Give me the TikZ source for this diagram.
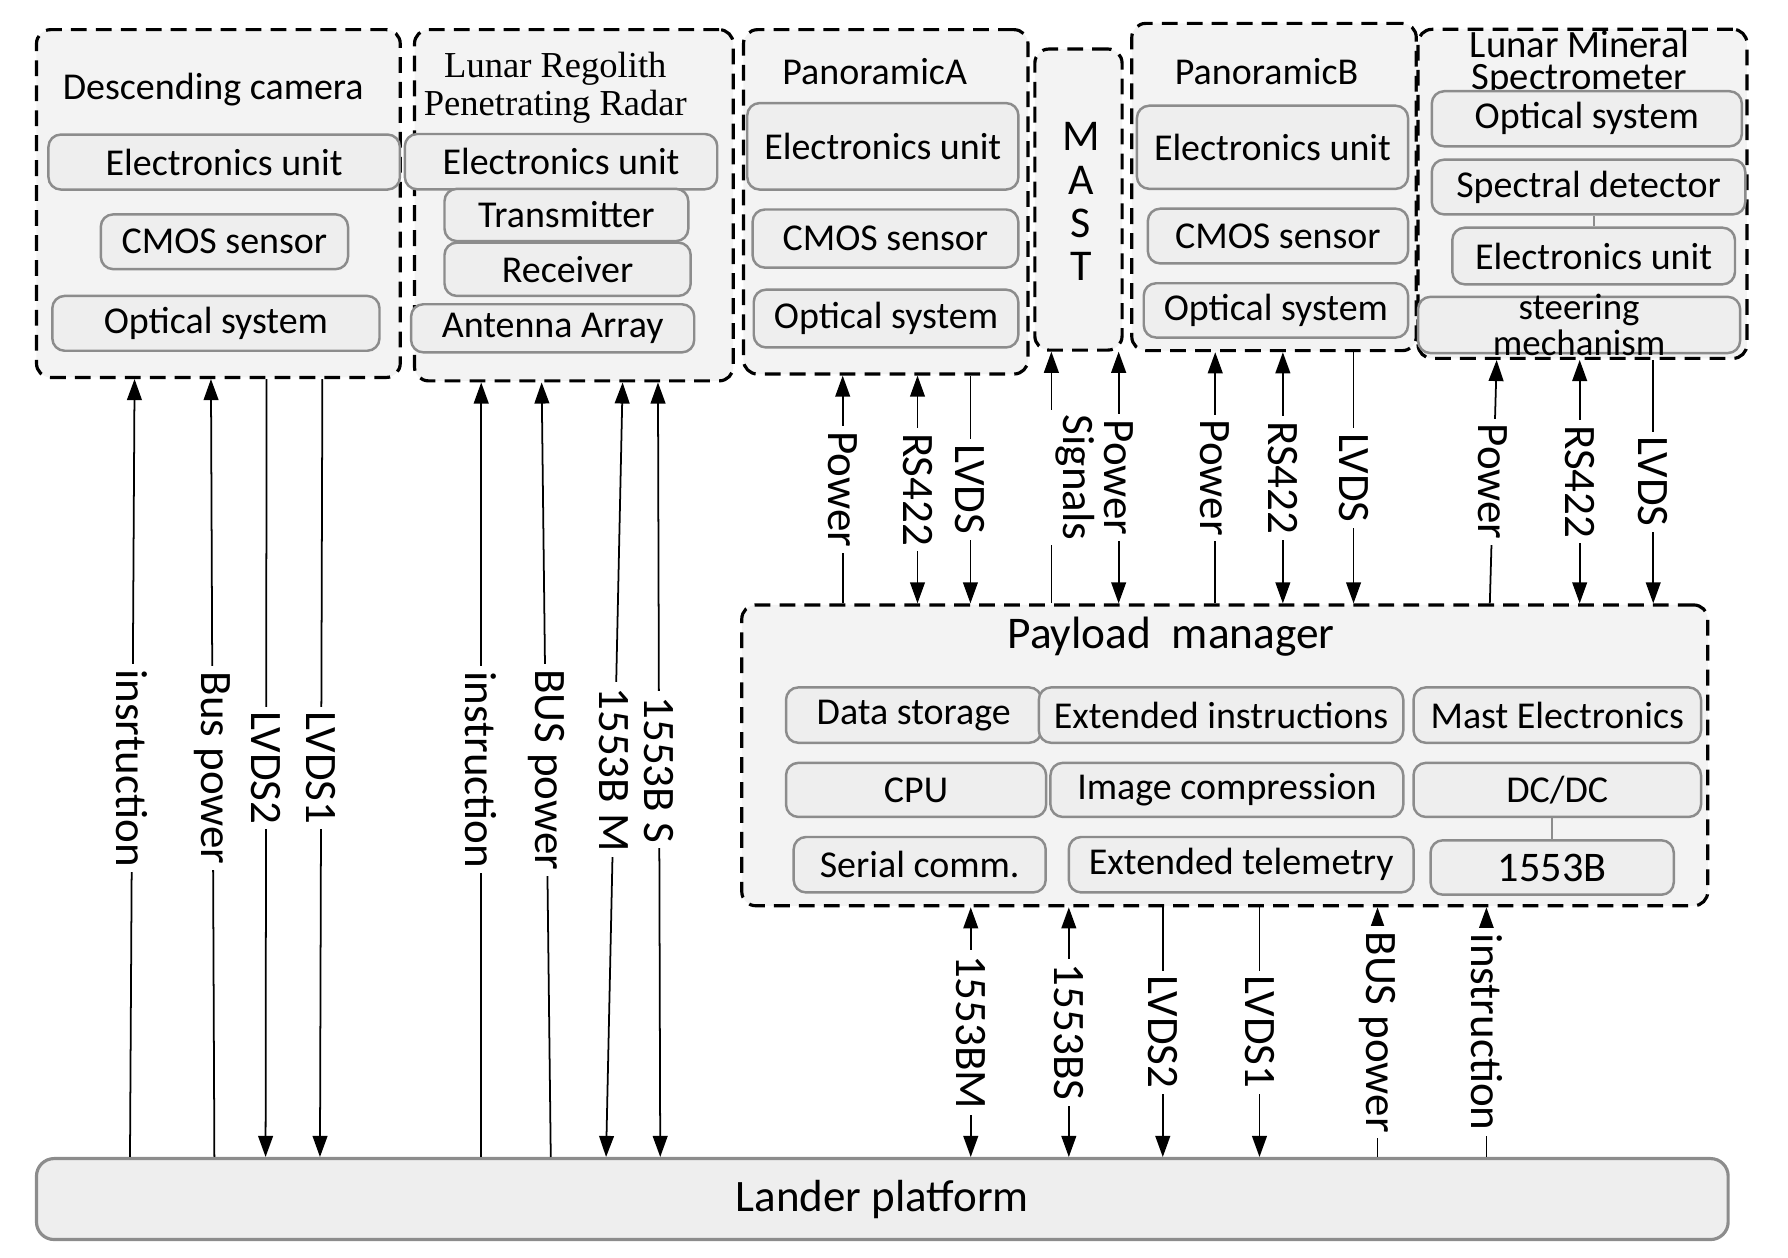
\documentclass[tikz,border=0pt]{standalone}
\usepackage{fontspec}
\setmainfont{Carlito}
\newfontfamily\regofont{Liberation Serif}
\usetikzlibrary{arrows.meta}
\usetikzlibrary{fit}
\usetikzlibrary{positioning}

\definecolor{groupfill}{HTML}{F3F3F3}
\definecolor{unitfill}{HTML}{EEEEEE}
\definecolor{unitline}{HTML}{8C8C8C}

\tikzset{
  group/.style={draw=black,line width=0.9pt,dash pattern=on 4.5pt off 2.6pt,rounded corners=4pt,fill=groupfill,inner sep=0pt},
  unit/.style={draw=unitline,line width=0.7pt,rounded corners=3.5pt,fill=unitfill,inner sep=0pt},
  utext/.style={inner sep=0pt,align=center,font=\fontsize{10.8}{11}\selectfont},
  platform/.style={draw=unitline,line width=0.9pt,rounded corners=5pt,fill=unitfill,inner sep=0pt},
  title/.style={inner sep=0pt,font=\fontsize{10.8}{11}\selectfont},
  wire/.style={line width=0.5pt},
  lbl/.style={midway,rotate=-90,fill=white,inner sep=1.5pt,font=\fontsize{12.8}{14}\selectfont},
}

\begin{document}
\begin{tikzpicture}[x=0.32445pt,y=-0.32445pt,>={Triangle[length=6pt,width=4.2pt]}]
\useasboundingbox (0,0) rectangle (1568,1103);

% instrument groups
\node[group,fit={(32,26) (351,331)}] (desc) {};
\node[group,fit={(363.5,26) (643,334)}] (radar) {};
\node[group,fit={(652,26) (901.5,328)}] (pana) {};
\node[group,fit={(907.5,43) (984,307)},
  label={[utext,font=\fontsize{12.5}{12.3}\selectfont,xshift=0.7pt,yshift=-0.6pt]center:M\\A\\S\\T}] (mast) {};
\node[group,fit={(992.5,20.5) (1242,307.5)}] (panb) {};
\node[group,fit={(1243.5,25.7) (1532,314.3)}] (lms) {};
\node[group,fit={(650.5,530.5) (1497.6,794.3)}] (pm) {};
\node[platform,fit={(32,1016) (1515.5,1087)},
  label={[utext,font=\fontsize{12.8}{13}\selectfont]center:Lander platform}] (lander) {};

\node[title,anchor=base] (desct) at (187,87.5) {Descending camera};
\node[title,align=center,font=\regofont\fontsize{10.4}{10.9}\selectfont] (radart) at (487,77) {Lunar Regolith\\Penetrating Radar};
\node[title,anchor=base] (panat) at (767,74.3) {PanoramicA};
\node[title,anchor=base] (panbt) at (1110.7,74.3) {PanoramicB};
\node[title,align=center,font=\fontsize{11}{9}\selectfont] (lmst) at (1385,55.5) {Lunar Mineral\\Spectrometer};
\node[title,anchor=base,font=\fontsize{12.9}{13}\selectfont] (pmt) at (1027,568.4) {Payload\ \ manager};

% units
\node[unit,fit={(42.5,118) (350.7,166.2)},label={[utext]center:Electronics unit}] (descelu) {};
\node[unit,fit={(88.4,188) (305.2,236)},label={[utext]center:CMOS sensor}] (desccmos) {};
\node[unit,fit={(45.9,259.5) (332.8,307.6)},label={[utext]center:Optical system}] (descopt) {};

\node[unit,fit={(355,117.5) (629,166)},label={[utext]center:Electronics unit}] (radarelu) {};
\node[unit,fit={(389.8,165.6) (603.6,211.4)},label={[utext]center:Transmitter}] (radartx) {};
\node[unit,fit={(389.8,212.8) (605.7,259.5)},label={[utext]center:Receiver}] (radarrx) {};
\node[unit,fit={(360.5,266.8) (608.8,309)},label={[utext]center:Antenna Array}] (radarant) {};

\node[unit,fit={(655.3,90.4) (893.1,166.2)},label={[utext]center:Electronics unit}] (panaelu) {};
\node[unit,fit={(660,183.7) (893,234.7)},label={[utext]center:CMOS sensor}] (panacmos) {};
\node[unit,fit={(661,254) (893,304.7)},label={[utext]center:Optical system}] (panaopt) {};

\node[unit,fit={(997,92.7) (1234.8,165.6)},label={[utext]center:Electronics unit}] (panbelu) {};
\node[unit,fit={(1006.6,183) (1234.8,231)},label={[utext]center:CMOS sensor}] (panbcmos) {};
\node[unit,fit={(1003,248.4) (1234.8,296)},label={[utext]center:Optical system}] (panbopt) {};

\node[unit,fit={(1255.6,80) (1527.5,128.3)},label={[utext]center:Optical system}] (lmsopt) {};
\node[unit,fit={(1255.6,140) (1530.5,188)},label={[utext]center:Spectral detector}] (lmsdet) {};
\node[unit,fit={(1273.6,199.7) (1521.5,249.3)},label={[utext]center:Electronics unit}] (lmselu) {};
\node[unit,fit={(1243.6,260.3) (1526,309.6)},
  label={[utext,font=\fontsize{10.5}{9}\selectfont]center:steering\\mechanism}] (lmsstr) {};
\draw[unitline,line width=0.6pt] (lmselu.north) -- (lmselu.north |- lmsdet.south);

\node[unit,fit={(689.3,602.8) (913.3,651.4)},label={[utext]center:Data storage}] (pmstore) {};
\node[unit,fit={(911,602.8) (1230.6,651.4)},label={[utext]center:Extended instructions}] (pmexti) {};
\node[unit,fit={(1239.6,602.8) (1491.7,651.4)},label={[utext]center:Mast Electronics}] (pmmast) {};
\node[unit,fit={(689.3,669) (917.4,716.4)},label={[utext]center:CPU}] (pmcpu) {};
\node[unit,fit={(921.2,669) (1230.6,716.4)},label={[utext]center:Image compression}] (pmimg) {};
\node[unit,fit={(1239.6,669) (1491.7,716.4)},label={[utext]center:DC/DC}] (pmdcdc) {};
\node[unit,fit={(696,734) (917,782.6)},label={[utext]center:Serial comm.}] (pmser) {};
\node[unit,fit={(937.3,734) (1239.6,782.6)},label={[utext]center:Extended telemetry}] (pmextt) {};
\node[unit,fit={(1254.5,736.9) (1467.8,784.6)},
  label={[utext,font=\fontsize{12}{12}\selectfont]center:1553B}] (pm1553) {};
\draw[unitline,line width=0.6pt] (pm1553.north) -- (pm1553.north |- pmdcdc.south);

% lander platform to camera and radar
\draw[wire,->] (lander.north -| 114,0) -- (desc.south -| 118,0) node[lbl] {insrtuction};
\draw[wire,->] (lander.north -| 188,0) -- (desc.south -| 185,0) node[lbl] {Bus power};
\draw[wire,->] (desc.south -| 233.8,0) -- (lander.north -| 232.9,0) node[lbl] {LVDS2};
\draw[wire,->] (desc.south -| 282.7,0) -- (lander.north -| 280.6,0) node[lbl] {LVDS1};
\draw[wire,->] (lander.north -| 422,0) -- (radar.south -| 422,0) node[lbl] {instruction};
\draw[wire,->] (lander.north -| 483,0) -- (radar.south -| 475,0) node[lbl] {BUS power};
\draw[wire,<->] (radar.south -| 546,0) -- (lander.north -| 531.5,0) node[lbl] {1553B M};
\draw[wire,<->] (radar.south -| 577,0) -- (lander.north -| 579,0) node[lbl] {1553B S};

% payload manager to instruments
\draw[wire,->] (pm.north -| 739,0) -- (pana.south -| 739,0) node[lbl] {Power};
\draw[wire,<->] (pana.south -| 804.6,0) -- (pm.north -| 804.6,0) node[lbl] {RS422};
\draw[wire,->] (pana.south -| 851,0) -- (pm.north -| 851,0) node[lbl] {LVDS};
\draw[wire,->] (pm.north -| 922,0) -- (mast.south -| 922,0) node[xshift=6.8pt,lbl,inner ysep=3pt] {Signals};
\draw[wire,<->] (mast.south -| 981,0) -- (pm.north -| 981,0) node[lbl] {Power};
\draw[wire,->] (pm.north -| 1065.7,0) -- (panb.south -| 1065.7,0) node[lbl] {Power};
\draw[wire,<->] (panb.south -| 1125,0) -- (pm.north -| 1125,0) node[lbl] {RS422};
\draw[wire,->] (panb.south -| 1187,0) -- (pm.north -| 1187,0) node[lbl] {LVDS};
\draw[wire,->] (pm.north -| 1306.5,0) -- (lms.south -| 1312.5,0) node[lbl] {Power};
\draw[wire,<->] (lms.south -| 1385.3,0) -- (pm.north -| 1385.3,0) node[lbl] {RS422};
\draw[wire,->] (lms.south -| 1449.8,0) -- (pm.north -| 1449.8,0) node[lbl] {LVDS};

% payload manager to lander platform
\draw[wire,<->] (pm.south -| 851.3,0) -- (lander.north -| 851.3,0) node[lbl] {1553BM};
\draw[wire,<->] (pm.south -| 937.3,0) -- (lander.north -| 937.3,0) node[lbl] {1553BS};
\draw[wire,->] (pm.south -| 1019.7,0) -- (lander.north -| 1019.7,0) node[lbl] {LVDS2};
\draw[wire,->] (pm.south -| 1104.5,0) -- (lander.north -| 1104.5,0) node[lbl] {LVDS1};
\draw[wire,->] (lander.north -| 1208,0) -- (pm.south -| 1208,0) node[lbl] {BUS power};
\draw[wire,->] (lander.north -| 1303.5,0) -- (pm.south -| 1303.5,0) node[lbl] {instruction};

\end{tikzpicture}
\end{document}
